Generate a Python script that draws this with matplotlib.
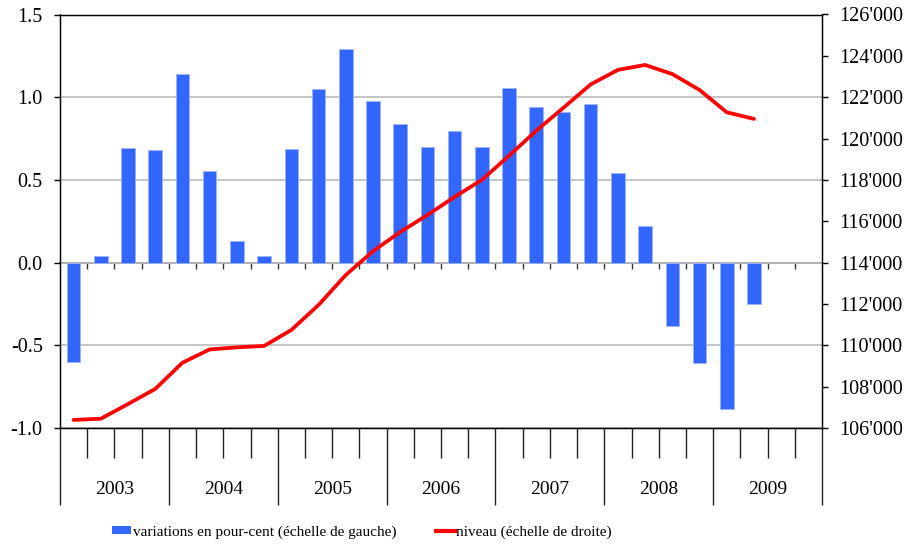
import matplotlib
matplotlib.use("Agg")
import matplotlib.pyplot as plt
import numpy as np
from matplotlib.ticker import FuncFormatter, FixedLocator
from matplotlib.patches import Patch
from matplotlib.lines import Line2D

plt.rcParams['font.family'] = ['Liberation Serif', 'DejaVu Serif']

years = ["2003", "2004", "2005", "2006", "2007", "2008", "2009"]
quarters_per_year = 4
pct_change = [-0.60, 0.04, 0.69, 0.68,
              1.14, 0.555, 0.133, 0.04,
              0.688, 1.048, 1.294, 0.978,
              0.839, 0.698, 0.797, 0.698,
              1.058, 0.938, 0.912, 0.956,
              0.544, 0.22, -0.385, -0.61,
              -0.885, -0.252]
level = [106390, 106450, 107160, 107890,
         109160, 109800, 109900, 109970,
         110740, 111950, 113400, 114550,
         115480, 116300, 117180, 118000,
         119170, 120380, 121490, 122620,
         123320, 123560, 123120, 122350,
         121270, 120950]
left_ticks = [-1.0, -0.5, 0.0, 0.5, 1.0, 1.5]
right_ticks = list(range(106000, 126001, 2000))
legend_labels = ["variations en pour-cent (échelle de gauche)",
                 "niveau (échelle de droite)"]

W, H = 914, 545
fig = plt.figure(figsize=(W / 100, H / 100), dpi=100)
ax = fig.add_axes([60 / W, 1 - 428 / H, 762 / W, 413.5 / H])

n_slots = len(years) * quarters_per_year
x = np.arange(len(pct_change))
bar_color = '#3366FF'
ax.bar(x, pct_change, width=0.5, color=bar_color, edgecolor='#9DB5FF',
       linewidth=0.6, zorder=2)
ax.set_xlim(-0.5, n_slots - 0.5)
ax.set_ylim(left_ticks[0], left_ticks[-1])
ax.set_yticks(left_ticks)
ax.yaxis.set_major_formatter(FuncFormatter(lambda v, p: f"{v:.1f}"))
ax.set_axisbelow(True)
ax.yaxis.grid(True, color='#C0C0C0', linewidth=1.3)
ax.tick_params(axis='y', direction='out', length=4, width=1, pad=8.5,
               labelsize=14.5)

# bottom category axis: quarter ticks (short) and year separators (long)
year_bounds = np.arange(0, n_slots + 1, quarters_per_year) - 0.5
quarter_bounds = np.arange(1, n_slots) - 0.5
ax.xaxis.set_major_locator(FixedLocator(year_bounds))
ax.xaxis.set_minor_locator(FixedLocator(quarter_bounds))
ax.xaxis.set_major_formatter(FuncFormatter(lambda v, p: ""))
ax.tick_params(axis='x', which='major', direction='out', length=55.5,
               width=1, color='#222222')
ax.tick_params(axis='x', which='minor', direction='out', length=21.5,
               width=1, color='#222222')
year_centers = year_bounds[:-1] + quarters_per_year / 2
for xc, yl in zip(year_centers, years):
    ax.text(xc, -61 / 413.5, yl, transform=ax.get_xaxis_transform(),
            ha='center', va='center', fontsize=14)

# zero line with small ticks
sec = ax.secondary_xaxis(-left_ticks[0] / (left_ticks[-1] - left_ticks[0]))
sec.set_xticks(quarter_bounds)
sec.set_xticklabels([])
sec.tick_params(axis='x', direction='out', length=4.5, width=1, color='#333333')
for s in sec.spines.values():
    s.set_linewidth(1.2)

for s in ax.spines.values():
    s.set_linewidth(1.0)
    s.set_color('black')

ax2 = ax.twinx()
ax2.plot(x, level, color='#FF0000', linewidth=2.7, solid_capstyle='round',
         solid_joinstyle='round', zorder=3)
ax2.set_ylim(right_ticks[0], right_ticks[-1])
ax2.set_yticks(right_ticks)
ax2.yaxis.set_major_formatter(
    FuncFormatter(lambda v, p: f"{int(v) // 1000}'{int(v) % 1000:03d}"))
ax2.tick_params(axis='y', direction='out', length=4, width=1, pad=8.5,
                labelsize=14.5)

handles = [Patch(facecolor=bar_color, edgecolor='none'),
           Line2D([0], [0], color='#FF0000', linewidth=3)]
fig.legend(handles, legend_labels, loc='center', ncol=2,
           bbox_to_anchor=(362 / W, 1 - 532 / H), frameon=False,
           fontsize=11, handlelength=1.25, handleheight=0.35,
           handletextpad=0.1, columnspacing=2.6, borderpad=0,
           borderaxespad=0)

fig.savefig("out.png", dpi=100)
